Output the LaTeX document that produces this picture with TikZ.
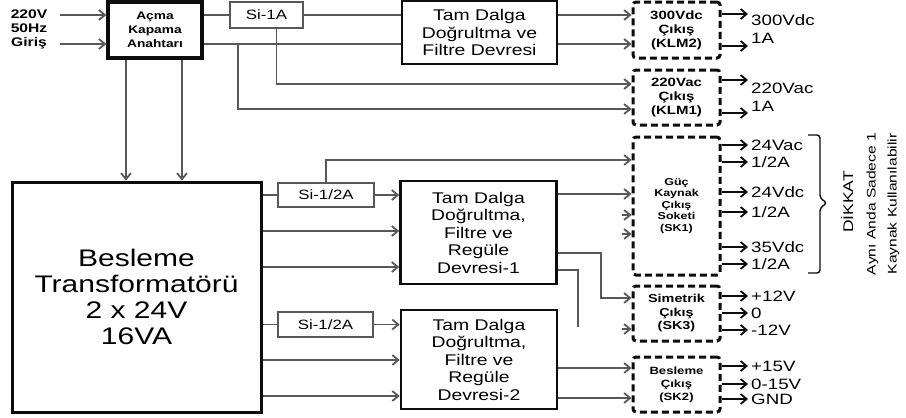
\documentclass[tikz,border=0pt]{standalone}
\usepackage{fontspec}
\setmainfont{Liberation Sans}[FakeStretch=1.25]
\usepackage{tikz}
\usetikzlibrary{arrows.meta,positioning,calc}
\definecolor{INK}{RGB}{12,12,12}
\definecolor{WIRE}{RGB}{88,88,88}
\newcommand{\fsz}[2]{\fontsize{#1}{#2}\selectfont}

\begin{document}
\begin{tikzpicture}[x=1pt,y=-1pt,>={Straight Barb[length=6pt,width=10pt]}]
    \tikzset{
      blok/.style={draw=INK,line width=2.6pt,align=center,inner sep=0pt,font=\fsz{15.5}{17.5}},
      sigorta/.style={draw=WIRE,line width=1.4pt,align=center,inner sep=0pt,font=\fsz{13.5}{15}},
      soket/.style={draw=INK,line width=3pt,dash pattern=on 7pt off 4pt,rounded corners=3pt,
        minimum width=87pt,align=center,inner sep=0pt},
      wire/.style={draw=WIRE,line width=1.8pt},
      cikis/.style={draw=INK,line width=1.8pt},
      etiket/.style={anchor=west,inner sep=3pt,text height=10.7pt,text depth=0pt,font=\fsz{15}{17}}
    }
    \useasboundingbox (0,0) rectangle (906,418);

    % giris ve anahtar
    \node[align=center,font=\bfseries\fsz{12.5}{14}] (giris) at (29,29) {220V\\50Hz\\Giriş};
    \node[blok,line width=3.4pt,minimum width=94pt,minimum height=56pt,font=\bfseries\fsz{11}{14}] (acma) at (155,30) {Açma\\Kapama\\Anahtarı};
    \node[sigorta,minimum width=73pt,minimum height=26pt] (si1a) at (266.5,15) {Si-1A};
    \node[blok,minimum width=155pt,minimum height=63pt] (td1) at (479.5,32.5) {Tam Dalga\\Doğrultma ve\\Filtre Devresi};
    \node[soket,minimum height=56pt,font=\bfseries\fsz{12}{14}] (klm2) at (676.5,30) {300Vdc\\Çıkış\\(KLM2)};
    \node[soket,minimum height=55pt,font=\bfseries\fsz{12}{14}] (klm1) at (676.5,97.5) {220Vac\\Çıkış\\(KLM1)};

    % trafo ve regule kartlari
    \node[blok,line width=3pt,minimum width=249pt,minimum height=230pt,font=\fsz{24}{26}] (trafo) at (136.5,297) {Besleme\\Transformatörü\\2 x 24V\\16VA};
    \node[sigorta,minimum width=96pt,minimum height=24pt] (si2a) at (326,195) {Si-1/2A};
    \node[sigorta,minimum width=95pt,minimum height=25pt] (si3a) at (325.5,324.5) {Si-1/2A};
    \node[blok,minimum width=156pt,minimum height=103pt] (td2) at (478.5,232.5) {Tam Dalga\\Doğrultma,\\Filtre ve\\Regüle\\Devresi-1};
    \node[blok,minimum width=156pt,minimum height=99pt] (td3) at (479,359.5) {Tam Dalga\\Doğrultma,\\Filtre ve\\Regüle\\Devresi-2};
    \node[soket,minimum height=138pt,font=\bfseries\fsz{10}{11.5}] (sk1) at (676.5,206) {Güç\\Kaynak\\Çıkış\\Soketi\\(SK1)};
    \node[soket,minimum height=55pt,font=\bfseries\fsz{11.5}{13.5}] (sk3) at (676.5,313.5) {Simetrik\\Çıkış\\(SK3)};
    \node[soket,minimum height=55pt,font=\bfseries\fsz{10.5}{13}] (sk2) at (676.5,384.5) {Besleme\\Çıkış\\(SK2)};

    \coordinate (in1) at (60,15);
    \coordinate (in2) at (60,44);
    \coordinate (j1) at (238,44);
    \coordinate (t1) at (578,327);

    % ust hat
    \draw[wire,->] (in1) -- (acma.west |- in1);
    \draw[wire,->] (in2) -- (acma.west |- in2);
    \draw[wire] (acma.east |- si1a.west) -- (si1a.west);
    \draw[wire] (si1a.east) -- (td1.west |- si1a.east);
    \draw[wire] (acma.east |- in2) -- (td1.west |- in2);
    \draw[wire,->] ([xshift=10pt]si1a.south) |- (klm1.west |- 0,84);
    \draw[wire,->] (j1) |- (klm1.west |- 0,109);
    \draw[wire,->] (td1.east |- 0,15) -- (klm2.west |- 0,15);
    \draw[wire,->] (td1.east |- 0,44) -- (klm2.west |- 0,44);
    \draw[wire,->] (acma.south -| 126,0) -- (trafo.north -| 126,0);
    \draw[wire,->] (acma.south -| 182,0) -- (trafo.north -| 182,0);

    % trafo cikislari
    \draw[wire] (trafo.east |- si2a.west) -- (si2a.west);
    \draw[wire,->] (si2a.east) -- (td2.west |- si2a.east);
    \draw[wire,->] (si2a.north) |- (sk1.west |- 0,160);
    \draw[wire] (trafo.east |- si3a.west) -- (si3a.west);
    \draw[wire,->] (si3a.east) -- (td3.west |- si3a.east);
    \foreach \y in {231,267} \draw[wire,->] (trafo.east |- 0,\y) -- (td2.west |- 0,\y);
    \foreach \y in {360,396} \draw[wire,->] (trafo.east |- 0,\y) -- (td3.west |- 0,\y);

    % regule cikislari
    \draw[wire,->] (td2.east |- 0,194) -- (sk1.west |- 0,194);
    \foreach \y in {215,234} \draw[wire,->] ($(sk1.west |- 0,\y)+(-10,0)$) -- (sk1.west |- 0,\y);
    \draw[wire,->] (td2.east |- 0,253) -| (601,275) |- (sk3.west |- 0,298);
    \draw[wire] (td2.east |- 0,270) -| (t1);
    \draw[wire,->] ($(sk3.west |- 0,329)+(-10,0)$) -- (sk3.west |- 0,329);
    \foreach \y in {368,398} \draw[wire,->] (td3.east |- 0,\y) -- (sk2.west |- 0,\y);

    % soket cikislari
    \node[etiket] (v300) at (748,20) {300Vdc};
    \node[etiket] (a300) at (748,38) {1A};
    \draw[cikis,->] (klm2.east |- 0,14) -- (v300.west |- 0,14);
    \draw[cikis,->] (klm2.east |- 0,46) -- (a300.west |- 0,46);
    \node[etiket] (v220) at (748,88) {220Vac};
    \node[etiket] (a220) at (748,106) {1A};
    \draw[cikis,->] (klm1.east |- 0,80) -- (v220.west |- 0,80);
    \draw[cikis,->] (klm1.east |- 0,113) -- (a220.west |- 0,113);
    \foreach \y/\t in {145/24Vac,162/{1/2A},192/24Vdc,212/{1/2A},247/35Vdc,264/{1/2A}}{
      \node[etiket] (g\y) at (748,\y) {\t};
      \draw[cikis,->] (sk1.east |- g\y.west) -- (g\y.west);
    }
    \foreach \y/\t in {296/+12V,313/0,330/-12V}{
      \node[etiket] (s\y) at (748,\y) {\t};
      \draw[cikis,->] (sk3.east |- s\y.west) -- (s\y.west);
    }
    \foreach \y/\t in {366/+15V,384/0-15V,399/GND}{
      \node[etiket] (b\y) at (748,\y) {\t};
      \draw[cikis,->] (sk2.east |- b\y.west) -- (b\y.west);
    }

    % uyari
    \draw[INK,line width=1.4pt,rounded corners=3pt] (808,135) -- (820,135) -- (820,198) -- (827,203)
      -- (820,208) -- (820,273) -- (808,273);
    \node[rotate=90,font=\fsz{14}{16}] (dikkat) at (847,202) {DİKKAT};
    \node[rotate=90,align=center,font=\fsz{12.5}{21}] (uyari) at (883,204) {Aynı Anda Sadece 1\\Kaynak Kullanılabilir};
\end{tikzpicture}
\end{document}
